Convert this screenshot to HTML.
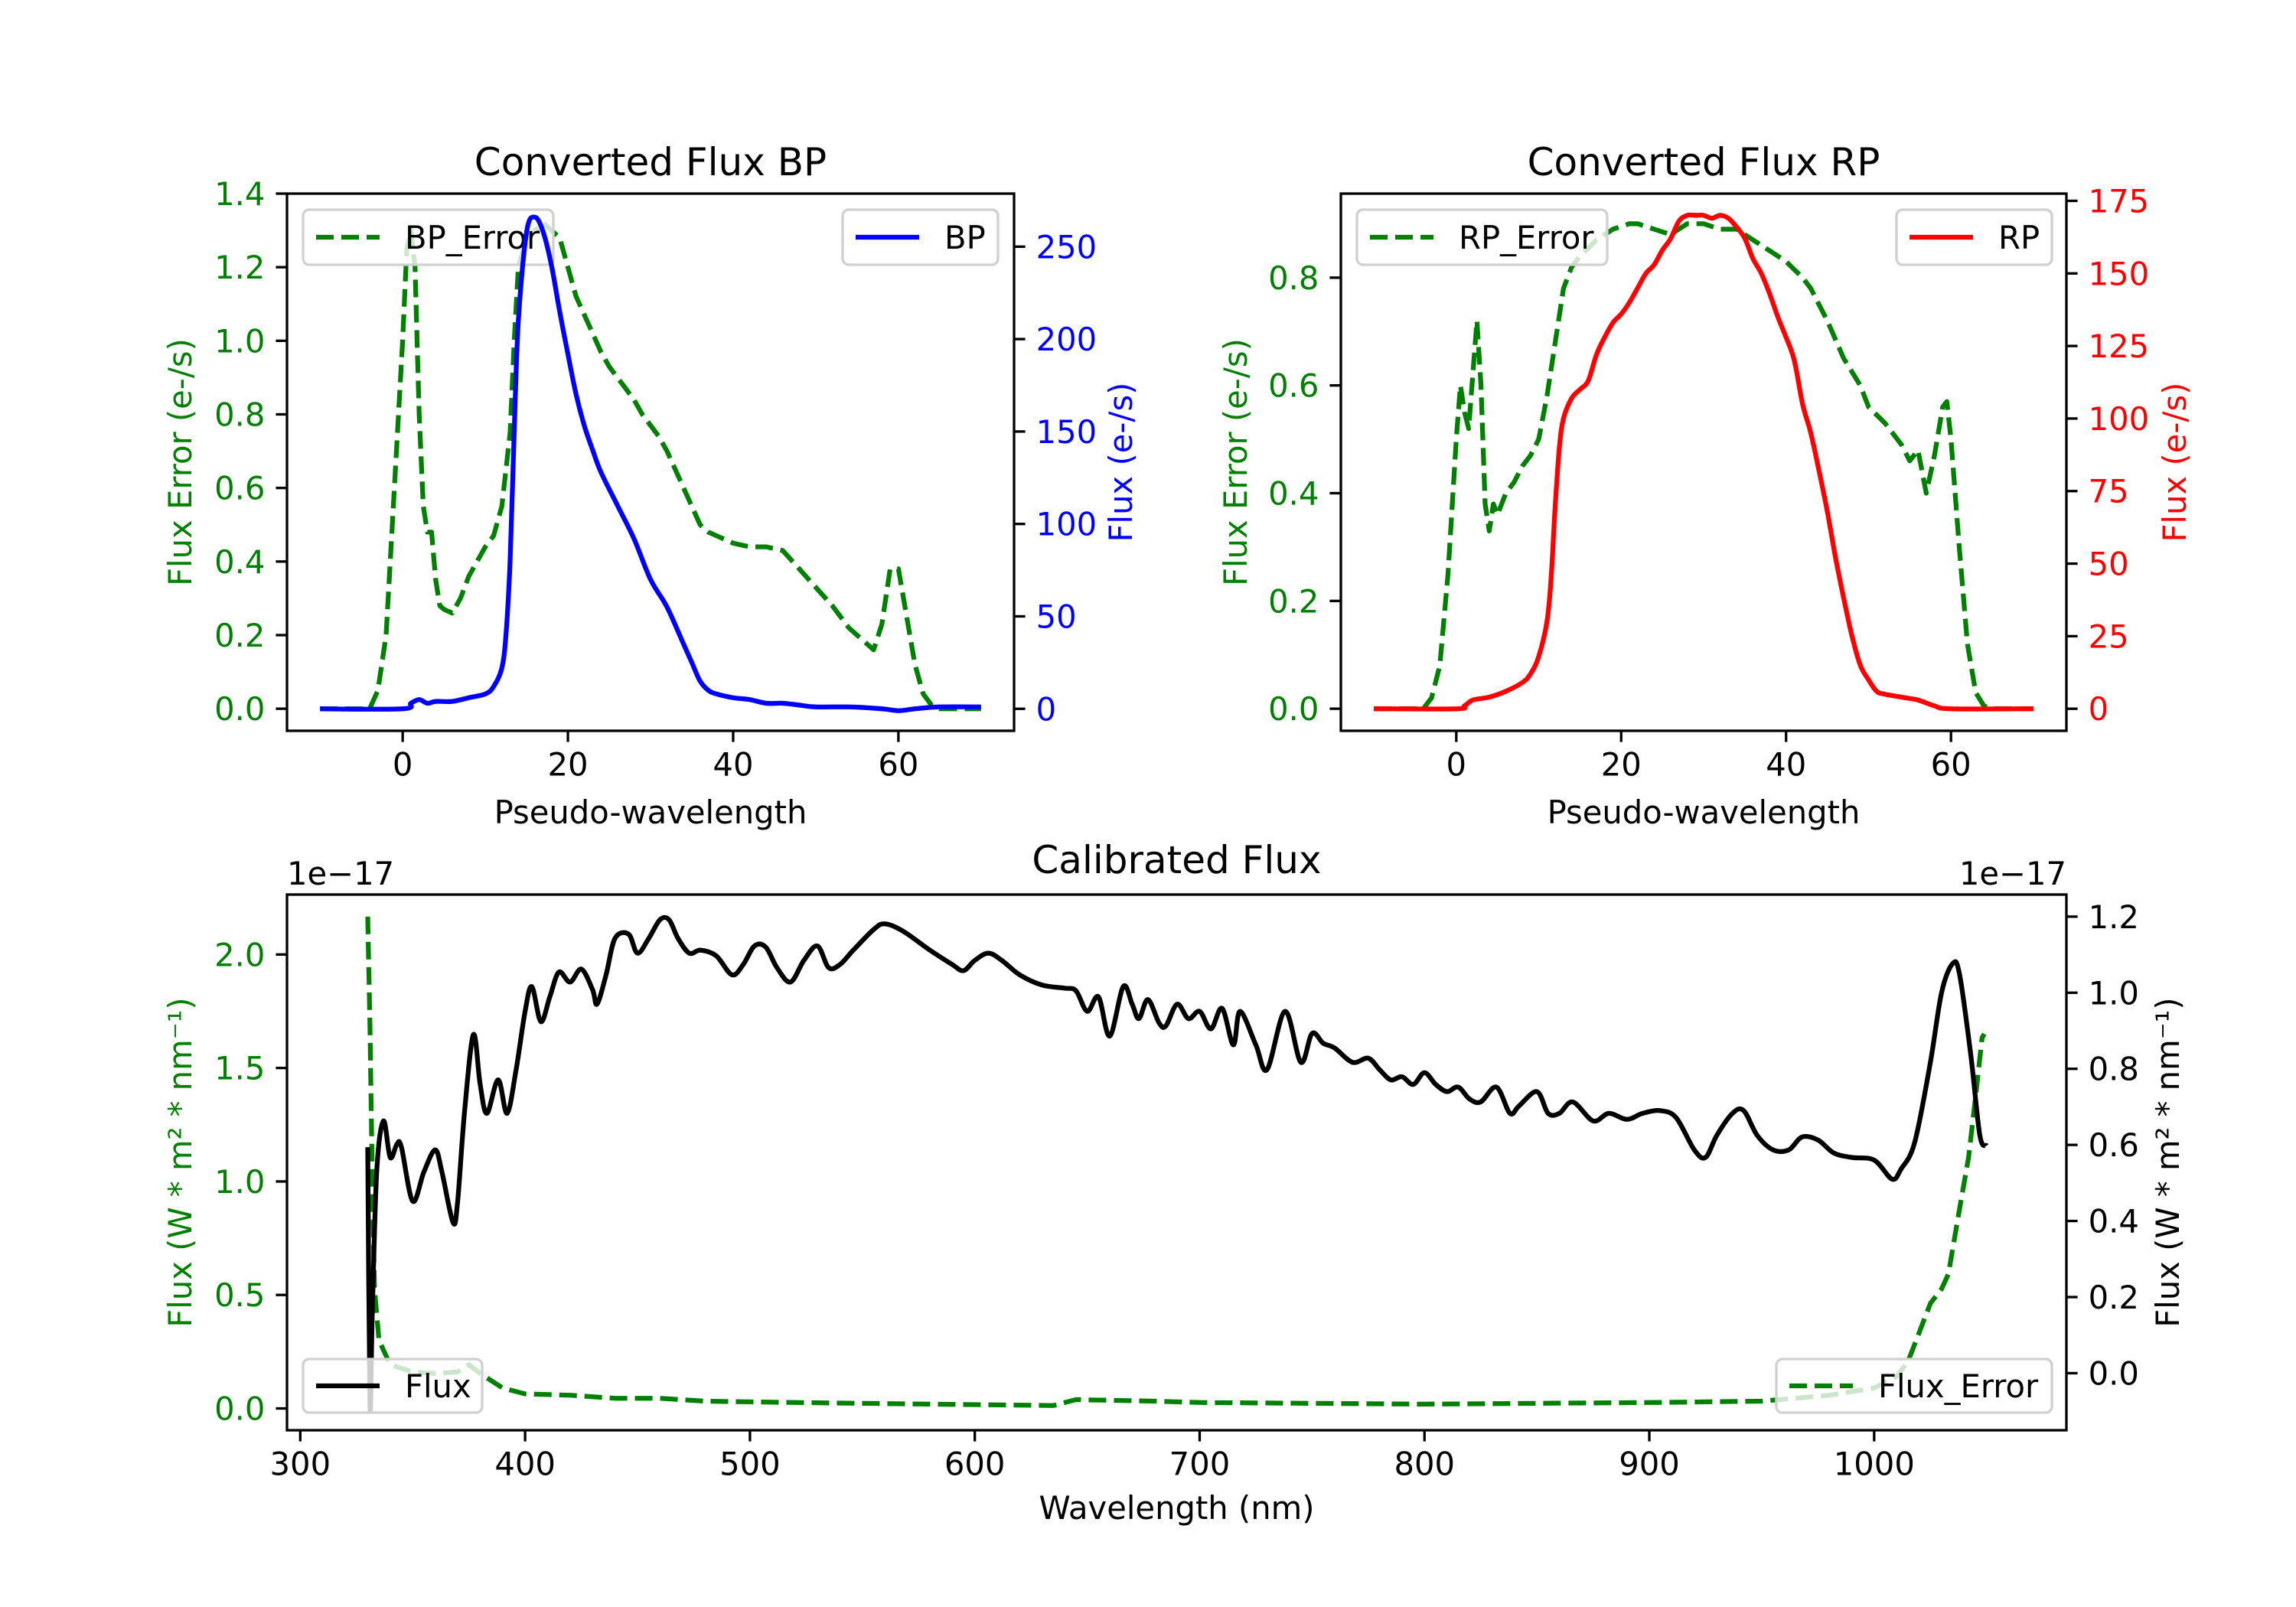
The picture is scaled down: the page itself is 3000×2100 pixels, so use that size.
<!DOCTYPE html>
<html><head><meta charset="utf-8"><style>
html,body{margin:0;padding:0;background:#fff;}
svg{display:block;font-family:"DejaVu Sans","Liberation Sans",sans-serif;}
</style></head><body>
<svg id="fig" width="3000" height="2100" viewBox="0 0 3000 2100" xmlns="http://www.w3.org/2000/svg"></svg>
<script>
// ---- BP panel data ----
const bpErrX = [-10,-4,-3,-2,-1,0,0.5,1,1.5,2,2.5,3,3.5,4,4.5,5,6,7,8,9,10,11,12,13,13.5,14,15,16,17,18,19,20,21,22,23,24,25,26,27,28,29,30,31,32,33,34,35,36,37,38,40,42,44,46,48,50,52,54,56,57,58,59,60,61,62,63,64,65,70];
const bpErrY = [0,0,0.05,0.2,0.6,1.0,1.25,1.3,1.2,0.8,0.55,0.48,0.48,0.35,0.28,0.27,0.26,0.3,0.36,0.4,0.44,0.47,0.55,0.75,1.0,1.2,1.28,1.3,1.32,1.3,1.28,1.2,1.12,1.07,1.02,0.97,0.93,0.9,0.87,0.84,0.8,0.77,0.74,0.7,0.65,0.6,0.55,0.5,0.48,0.47,0.45,0.44,0.44,0.43,0.38,0.33,0.28,0.22,0.18,0.16,0.23,0.38,0.38,0.25,0.12,0.04,0.01,0,0];
const bpX = [-10,0,1,2,3,4,6,8,10,11,12,12.5,13,13.5,14,15,16,17,18,19,20,21,22,23,24,26,28,30,32,34,35,36,37,38,40,42,44,46,48,50,54,58,60,62,65,70];
const bpY = [0,0,3,5,3,4,4,6,8,12,22,40,80,150,210,258,266,258,240,215,192,170,153,140,128,110,92,70,55,35,25,15,10,8,6,5,3,3,2,1,1,0,-1,0,1,1];
// ---- RP panel data ----
const rpErrX = [-10,-4,-3,-2,-1,0,0.5,1,1.5,2,2.5,3,3.5,4,4.5,5,6,7,8,9,10,11,12,13,14,15,17,19,21,22,24,26,28,30,32,34,36,38,40,42,43,45,47,49,50,52,54,55,56,57,58,59,59.5,60,61,62,63,64,65,70];
const rpErrY = [0,0,0.02,0.08,0.25,0.5,0.6,0.55,0.52,0.62,0.72,0.6,0.38,0.33,0.38,0.36,0.4,0.42,0.45,0.47,0.5,0.58,0.68,0.78,0.82,0.84,0.87,0.89,0.9,0.9,0.89,0.88,0.9,0.9,0.89,0.89,0.87,0.85,0.83,0.8,0.78,0.72,0.65,0.6,0.56,0.53,0.49,0.46,0.48,0.4,0.47,0.56,0.57,0.5,0.3,0.12,0.03,0.005,0,0];
const rpX = [-10,0,1,2,4,6,8,9,10,11,11.5,12,12.5,13,14,15,16,17,18,19,20,21,22,23,24,25,26,27,28,29,30,31,32,33,34,35,36,37,38,39,40,41,42,43,44,45,46,47,48,49,50,51,52,54,56,58,60,70];
const rpY = [0,0,1,3,4,6,9,12,18,30,45,70,90,100,107,110,113,122,128,133,136,140,145,150,153,158,162,168,170,170,170,169,170,169,166,162,155,150,143,135,128,120,105,95,82,68,52,38,25,15,10,6,5,4,3,1,0,0];
// ---- Calibrated panel data (units of 1e-17) ----
const calX = [330,331,332,334,337,340,343,345,350,355,360,363,368,370,373,377,380,383,388,392,396,400,403,407,411,415,420,425,430,432,436,440,446,450,455,460,464,468,473,478,485,492,497,502,507,512,518,524,530,535,540,546,555,560,568,580,590,595,600,606,612,620,630,640,645,650,655,660,666,670,673,677,682,685,690,695,700,705,710,715,718,725,730,738,745,750,755,760,768,775,780,785,790,795,800,805,810,815,820,825,832,838,842,850,855,860,866,875,882,890,897,905,912,920,925,930,937,942,948,955,962,968,975,982,990,1000,1008,1012,1018,1025,1030,1035,1038,1043,1047,1050];
const calY = [0.594,-0.084,0.146,0.529,0.663,0.567,0.602,0.594,0.452,0.529,0.587,0.529,0.395,0.452,0.683,0.890,0.759,0.683,0.771,0.683,0.798,0.951,1.016,0.924,0.989,1.054,1.028,1.062,1.008,0.970,1.047,1.143,1.154,1.104,1.143,1.192,1.192,1.143,1.104,1.112,1.097,1.047,1.074,1.123,1.120,1.066,1.028,1.085,1.123,1.066,1.074,1.112,1.166,1.181,1.162,1.112,1.074,1.058,1.085,1.104,1.085,1.047,1.020,1.012,1.005,0.951,0.989,0.886,1.016,0.970,0.932,0.982,0.920,0.913,0.970,0.932,0.951,0.905,0.959,0.863,0.951,0.863,0.798,0.951,0.817,0.893,0.867,0.855,0.817,0.828,0.798,0.771,0.779,0.759,0.790,0.759,0.740,0.752,0.721,0.713,0.752,0.683,0.702,0.740,0.683,0.683,0.713,0.663,0.683,0.667,0.683,0.690,0.671,0.587,0.567,0.625,0.683,0.690,0.625,0.587,0.587,0.621,0.613,0.579,0.567,0.560,0.510,0.537,0.606,0.817,1.001,1.077,1.047,0.836,0.625,0.598];
const calErrX = [330,331,332,333,335,340,350,360,370,375,380,390,400,420,440,460,480,520,580,635,640,645,680,700,800,900,950,980,1000,1010,1015,1020,1025,1030,1033,1038,1042,1045,1048,1049];
const calErrY = [2.167,1.685,1.04,0.527,0.30,0.193,0.161,0.154,0.161,0.193,0.154,0.09,0.064,0.058,0.045,0.045,0.032,0.026,0.019,0.013,0.026,0.039,0.032,0.026,0.019,0.026,0.032,0.058,0.09,0.141,0.206,0.334,0.463,0.527,0.592,0.881,1.106,1.363,1.633,1.65];
// ---- ticks ----
const bpXTicks = [0,20,40,60];
const bpLTicks = [0,0.2,0.4,0.6,0.8,1.0,1.2,1.4];
const bpRTicks = [0,50,100,150,200,250];
const rpLTicks = [0,0.2,0.4,0.6,0.8];
const rpRTicks = [0,25,50,75,100,125,150,175];
const calXTicks = [300,400,500,600,700,800,900,1000];
const calLTicks = [0,0.5,1.0,1.5,2.0];
const calRTicks = [0,0.2,0.4,0.6,0.8,1.0,1.2];

const NS = "http://www.w3.org/2000/svg";
const svg = document.getElementById('fig');
const FS = 41.7, LW = 6.25, SW = 3.3, TL = 14.6;
function mk(tag, attrs, parent){const e=document.createElementNS(NS,tag);for(const k in attrs)e.setAttribute(k,attrs[k]);(parent||svg).appendChild(e);return e;}
function txt(s, attrs, parent){const e=mk('text',attrs,parent);e.textContent=s;return e;}
function lin(d0,d1,p0,p1){return v=>p0+(v-d0)/(d1-d0)*(p1-p0);}
let clipN=0;
function clip(x0,y0,x1,y1){const id='c'+(clipN++);const cp=mk('clipPath',{id:id});mk('rect',{x:x0,y:y0,width:x1-x0,height:y1-y0},cp);return id;}
function path(xs,ys,sx,sy,color,dash,cid,name,smooth){
  const P=xs.map((x,i)=>[sx(x),sy(ys[i])]);
  let d='M'+P[0][0].toFixed(1)+','+P[0][1].toFixed(1);
  for(let i=1;i<P.length;i++){
    if(smooth){
      const p0=P[Math.max(0,i-2)],p1=P[i-1],p2=P[i],p3=P[Math.min(P.length-1,i+1)];
      const c1x=p1[0]+(p2[0]-p0[0])/6,c1y=p1[1]+(p2[1]-p0[1])/6;
      const c2x=p2[0]-(p3[0]-p1[0])/6,c2y=p2[1]-(p3[1]-p1[1])/6;
      d+='C'+c1x.toFixed(1)+','+c1y.toFixed(1)+' '+c2x.toFixed(1)+','+c2y.toFixed(1)+' '+p2[0].toFixed(1)+','+p2[1].toFixed(1);
    } else d+='L'+P[i][0].toFixed(1)+','+P[i][1].toFixed(1);
  }
  const p=mk('path',{d:d,fill:'none',stroke:color,'stroke-width':LW,'stroke-linejoin':'round','clip-path':'url(#'+cid+')'});
  if(dash)p.setAttribute('stroke-dasharray','23,10');
  
  
  return p;
}
function legend(x,y,w,h,label,color,dash,name){
  const g=mk('g',{});
  
  
  mk('rect',{x:x,y:y,width:w,height:h,rx:8,fill:'#fff','fill-opacity':0.8,stroke:'#d0d0d0','stroke-width':3.3},g);
  const l=mk('line',{x1:x+17,x2:x+100,y1:y+h/2,y2:y+h/2,stroke:color,'stroke-width':LW},g);
  if(dash)l.setAttribute('stroke-dasharray','23,10');
  txt(label,{x:x+133,y:y+h/2+15,'font-size':FS,fill:'#000'},g);
}
function yTicks(ticks,labels,sy,xEdge,side,color,name){
  const g=mk('g',{});
  
  
  ticks.forEach((t,i)=>{const y=sy(t);
    mk('line',{x1:xEdge,x2:xEdge+(side<0?-TL:TL),y1:y,y2:y,stroke:'#000','stroke-width':SW},g);
    txt(labels[i],{x:xEdge+(side<0?-TL-14:TL+14),y:y+15,'font-size':FS,fill:color,'text-anchor':side<0?'end':'start'},g);});
}
function xTicks(ticks,sx,yEdge,name){
  const g=mk('g',{});
  
  
  ticks.forEach(t=>{const x=sx(t);
    mk('line',{x1:x,x2:x,y1:yEdge,y2:yEdge+TL,stroke:'#000','stroke-width':SW},g);
    txt(String(t),{x:x,y:yEdge+TL+44,'font-size':FS,fill:'#000','text-anchor':'middle'},g);});
}
function frame(x0,y0,x1,y1,name){const r=mk('rect',{x:x0,y:y0,width:x1-x0,height:y1-y0,fill:'none',stroke:'#000','stroke-width':SW});
  
  }
function rlabel(s,x,y,color,name){const t=txt(s,{x:x,y:y,'font-size':FS,fill:color,'text-anchor':'middle',transform:'rotate(-90 '+x+' '+y+')','dominant-baseline':'middle'});
  
  }
function label(s,x,y,size,name){const t=txt(s,{x:x,y:y,'font-size':size,fill:'#000','text-anchor':'middle'});
  
  }
const f1=v=>v.toFixed(1);

// ---- BP panel ----
{const X0=375,X1=1325,Y0=253,Y1=955;
 const sx=lin(-14,74,X0,X1), sl=lin(-0.06,1.4,Y1,Y0), sr=lin(-11.9,278.7,Y1,Y0);
 const c=clip(X0,Y0,X1,Y1);
 path(bpErrX,bpErrY,sx,sl,'#008000',true,c,'bp-error-line',false);
 legend(396,274,327,72,'BP_Error','#008000',true,'bp-error-legend');
 path(bpX,bpY,sx,sr,'#0000ff',false,c,'bp-flux-line',true);
 legend(1101,274,203,72,'BP','#0000ff',false,'bp-legend');
 frame(X0,Y0,X1,Y1,'bp-axes-frame');
 xTicks(bpXTicks,sx,Y1,'bp-x-ticks');
 yTicks(bpLTicks,bpLTicks.map(f1),sl,X0,-1,'#008000','bp-left-y-ticks');
 yTicks(bpRTicks,bpRTicks.map(String),sr,X1,1,'#0000ff','bp-right-y-ticks');
 label('Converted Flux BP',(X0+X1)/2,229,50,'bp-title');
 label('Pseudo-wavelength',(X0+X1)/2,1076,FS,'bp-x-axis-title');
 rlabel('Flux Error (e-/s)',239,(Y0+Y1)/2,'#008000','bp-left-y-axis-title');
 rlabel('Flux (e-/s)',1468,(Y0+Y1)/2,'#0000ff','bp-right-y-axis-title');}

// ---- RP panel ----
{const X0=1752,X1=2700,Y0=253,Y1=955;
 const sx=lin(-14,74,X0,X1), sl=lin(-0.041,0.956,Y1,Y0), sr=lin(-7.6,177.5,Y1,Y0);
 const c=clip(X0,Y0,X1,Y1);
 path(rpErrX,rpErrY,sx,sl,'#008000',true,c,'rp-error-line',false);
 legend(1773,274,327,72,'RP_Error','#008000',true,'rp-error-legend');
 path(rpX,rpY,sx,sr,'#ff0000',false,c,'rp-flux-line',true);
 legend(2478,274,203,72,'RP','#ff0000',false,'rp-legend');
 frame(X0,Y0,X1,Y1,'rp-axes-frame');
 xTicks(bpXTicks,sx,Y1,'rp-x-ticks');
 yTicks(rpLTicks,rpLTicks.map(f1),sl,X0,-1,'#008000','rp-left-y-ticks');
 yTicks(rpRTicks,rpRTicks.map(String),sr,X1,1,'#ff0000','rp-right-y-ticks');
 label('Converted Flux RP',(X0+X1)/2,229,50,'rp-title');
 label('Pseudo-wavelength',(X0+X1)/2,1076,FS,'rp-x-axis-title');
 rlabel('Flux Error (e-/s)',1618,(Y0+Y1)/2,'#008000','rp-left-y-axis-title');
 rlabel('Flux (e-/s)',2845,(Y0+Y1)/2,'#ff0000','rp-right-y-axis-title');}

// ---- Calibrated panel ----
{const X0=375,X1=2700,Y0=1169,Y1=1869;
 const sx=lin(294.1,1085.5,X0,X1), sl=lin(-0.096,2.264,Y1,Y0), sr=lin(-0.150,1.258,Y1,Y0);
 const c=clip(X0,Y0,X1,Y1);
 path(calErrX,calErrY,sx,sl,'#008000',true,c,'calibrated-error-line',false);
 legend(2321,1776,360,70,'Flux_Error','#008000',true,'flux-error-legend');
 path(calX,calY,sx,sr,'#000000',false,c,'calibrated-flux-line',true);
 legend(396,1776,234,70,'Flux','#000000',false,'flux-legend');
 frame(X0,Y0,X1,Y1,'calibrated-axes-frame');
 xTicks(calXTicks,sx,Y1,'calibrated-x-ticks');
 yTicks(calLTicks,calLTicks.map(f1),sl,X0,-1,'#008000','calibrated-left-y-ticks');
 yTicks(calRTicks,calRTicks.map(f1),sr,X1,1,'#000000','calibrated-right-y-ticks');
 label('Calibrated Flux',(X0+X1)/2,1141,50,'calibrated-title');
 label('Wavelength (nm)',(X0+X1)/2,1985,FS,'calibrated-x-axis-title');
 const o1=txt('1e\u221217',{x:375,y:1156,'font-size':FS,fill:'#000'});
 
 
 const o2=txt('1e\u221217',{x:2700,y:1156,'font-size':FS,fill:'#000','text-anchor':'end'});
 
 
 rlabel('Flux (W * m\u00b2 * nm\u207b\u00b9)',239,(Y0+Y1)/2,'#008000','calibrated-left-y-axis-title');
 rlabel('Flux (W * m\u00b2 * nm\u207b\u00b9)',2836,(Y0+Y1)/2,'#000000','calibrated-right-y-axis-title');}
</script>
</body></html>
